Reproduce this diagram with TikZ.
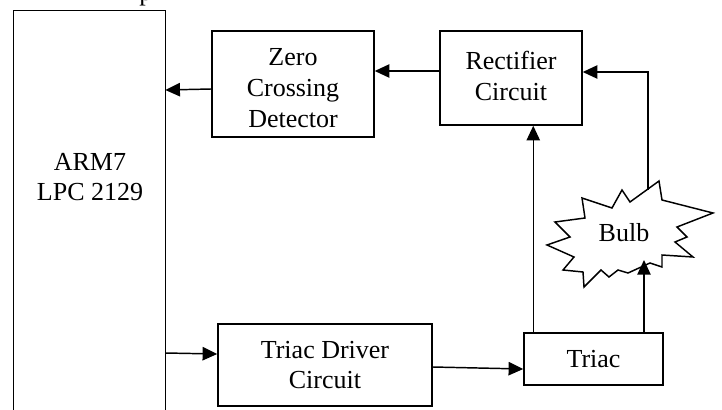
\documentclass[tikz,border=0pt]{standalone}
\usepackage{fontspec}
\setmainfont{Liberation Serif}
\usetikzlibrary{arrows.meta,calc}
\begin{document}
\begin{tikzpicture}[x=0.75pt,y=-0.75pt,
  every node/.style={font=\fontsize{19.5}{23}\selectfont, align=center, inner sep=0pt},
  blk/.style={draw, line width=1.1pt},
  arr/.style={line width=1.1pt, -{Triangle[length=11pt,width=10pt]}},
  wire/.style={line width=1.1pt}]
\useasboundingbox (0,0) rectangle (722,410);
% ARM block (open at bottom)
\node (arm) [minimum width=113.25pt, minimum height=314.25pt] at (89.5,220.5) {};
\draw[wire] (arm.south west) -- (arm.north west) -- (arm.north east) -- (arm.south east);
\node (armtxt) at (90,177) {ARM7\\LPC 2129};
% cut-off text at top
\node (ptxt) [anchor=base west] at (139,1) {p};
% boxes
\node (zcd) [blk, minimum width=121.5pt, minimum height=79.5pt] at (293,84) {};
\node (zcdtxt) at (293,88) {Zero\\Crossing\\Detector};
\node (rect) [blk, minimum width=106.5pt, minimum height=70.5pt] at (511,78) {};
\node (recttxt) at (511,76) {Rectifier\\Circuit};
\node (drv) [blk, minimum width=160.5pt, minimum height=61.5pt] at (325,365) {Triac Driver\\Circuit};
\node (triac) [blk, minimum width=104.25pt, minimum height=39pt] at (593.5,359) {Triac};
% bulb
\draw[wire, fill=white] (582,198) -- (612,208) -- (622,190) -- (630,202) -- (659,181) -- (662,200)
  -- (713,213) -- (677,227) -- (687,237) -- (675,242) -- (693,257) -- (662,255) -- (662,267)
  -- (650,263) -- (628,273) -- (618,270) -- (609,277) -- (601,270) -- (584,287) -- (583,272)
  -- (563,270) -- (574,257) -- (547,245) -- (570,237) -- (555,222) -- (585,218) -- cycle;
\node (bulb) at (624,233) {Bulb};
\coordinate (bulbin) at (644,260);
\coordinate (bulbout) at (648,190);
\coordinate (triacout) at ([xshift=7.5pt]triac.north west);
% connectors
\draw[arr] ([yshift=5.25pt]rect.west) -- ([yshift=5.25pt]rect.west -| zcd.east);
\draw[arr] ([yshift=-3.75pt]zcd.west) -- ([yshift=-4.5pt]zcd.west -| arm.east);
\draw[arr] ([yshift=9pt]drv.west -| arm.east) -- ([yshift=8.25pt]drv.west);
\draw[arr] ([yshift=-1.5pt]drv.east) -- ([yshift=-7.5pt]triac.west);
\draw[arr] (triacout) -- (triacout |- rect.south);
\draw[arr] (triac.north -| bulbin) -- (bulbin);
\draw[arr] (bulbout) |- ([yshift=4.5pt]rect.east);
\end{tikzpicture}
\end{document}
